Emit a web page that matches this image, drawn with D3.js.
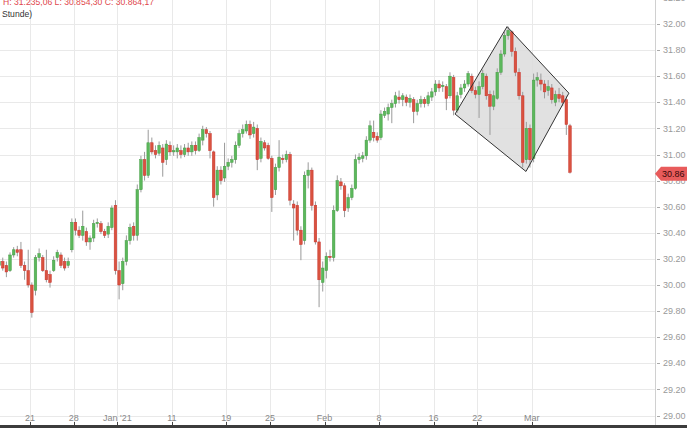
<!DOCTYPE html>
<html><head><meta charset="utf-8">
<script src="https://cdn.jsdelivr.net/npm/d3@7/dist/d3.min.js"></script>
<style>html,body{margin:0;padding:0;background:#fff;overflow:hidden}svg{display:block;font-family:"Liberation Sans",Arial,sans-serif}</style>
</head><body><svg id="c" width="687" height="428"></svg>
<script>
// Trading days shown (US market), 3 candles per day
const days = ["2020-12-16","2020-12-17","2020-12-18","2020-12-21","2020-12-22","2020-12-23","2020-12-24","2020-12-28","2020-12-29","2020-12-30","2020-12-31",
"2021-01-04","2021-01-05","2021-01-06","2021-01-07","2021-01-08","2021-01-11","2021-01-12","2021-01-13","2021-01-14","2021-01-15","2021-01-19","2021-01-20","2021-01-21","2021-01-22","2021-01-25","2021-01-26","2021-01-27","2021-01-28","2021-01-29",
"2021-02-01","2021-02-02","2021-02-03","2021-02-04","2021-02-05","2021-02-08","2021-02-09","2021-02-10","2021-02-11","2021-02-12","2021-02-16","2021-02-17","2021-02-18","2021-02-19","2021-02-22","2021-02-23","2021-02-24","2021-02-25","2021-02-26",
"2021-03-01","2021-03-02","2021-03-03","2021-03-04"];
const candlesPerDay = 3;

const opens = [30.15,30.18,30.15,30.11,30.23,30.27,30.27,30.15,30.11,30.00,
29.96,30.21,30.21,30.11,30.08,30.11,30.21,30.23,30.18,30.15,
30.27,30.48,30.42,30.38,30.41,30.33,30.36,30.47,30.47,30.41,
30.39,30.44,30.61,30.11,30.01,30.18,30.34,30.45,30.38,30.73,
30.96,30.84,31.09,31.03,31.01,31.05,30.96,31.07,31.02,31.02,
31.03,31.00,31.05,31.02,31.07,31.03,31.11,31.19,31.16,31.02,
30.69,30.88,30.82,30.91,30.94,30.96,31.07,31.16,31.18,31.23,
31.16,31.20,30.97,31.09,31.07,30.97,30.73,30.90,30.97,30.96,
31.00,30.62,30.61,30.42,30.34,30.84,30.88,30.61,30.33,30.02,
30.11,30.22,30.21,30.57,30.79,30.76,30.59,30.67,30.74,30.96,
30.97,30.99,31.11,31.17,31.14,31.13,31.30,31.31,31.36,31.39,
31.44,31.42,31.44,31.40,31.42,31.33,31.39,31.42,31.39,31.44,
31.48,31.54,31.52,31.52,31.45,31.59,31.34,31.46,31.51,31.54,
31.60,31.49,31.46,31.52,31.60,31.46,31.37,31.43,31.63,31.77,
31.91,31.94,31.79,31.63,31.45,30.96,31.20,30.97,31.57,31.57,
31.54,31.49,31.51,31.40,31.46,31.45,31.42,31.22];
const highs = [30.21,30.21,30.18,30.25,30.29,30.30,30.33,30.18,30.27,30.02,
30.23,30.28,30.23,30.27,30.11,30.22,30.27,30.25,30.21,30.21,
30.51,30.51,30.45,30.57,30.44,30.38,30.50,30.51,30.49,30.43,
30.48,30.61,30.65,30.18,30.21,30.38,30.47,30.48,30.77,30.99,
31.02,31.19,31.13,31.07,31.10,31.08,31.11,31.10,31.07,31.08,
31.07,31.08,31.09,31.10,31.10,31.16,31.22,31.21,31.18,31.03,
30.91,30.91,31.09,30.97,30.99,31.10,31.19,31.23,31.26,31.26,
31.25,31.23,31.13,31.11,31.09,30.99,30.93,31.11,31.00,31.03,
31.02,30.65,30.64,30.45,30.87,30.94,30.90,30.64,30.36,30.18,
30.25,30.27,30.61,30.84,30.82,30.78,30.70,30.77,31.00,31.01,
31.02,31.14,31.26,31.26,31.17,31.34,31.36,31.39,31.42,31.48,
31.49,31.47,31.46,31.46,31.44,31.42,31.45,31.44,31.48,31.51,
31.57,31.57,31.56,31.54,31.63,31.61,31.48,31.54,31.57,31.64,
31.62,31.52,31.56,31.65,31.62,31.49,31.49,31.66,31.80,31.94,
31.98,31.95,31.82,31.66,31.48,31.25,31.23,31.62,31.63,31.62,
31.57,31.57,31.54,31.49,31.51,31.48,31.45,31.235];
const lows = [30.11,30.11,30.06,30.10,30.21,30.22,30.13,30.04,29.98,29.75,
29.92,30.18,30.10,30.02,29.98,30.10,30.18,30.13,30.11,30.13,
30.25,30.38,30.36,30.34,30.30,30.27,30.33,30.44,30.39,30.36,
30.36,30.42,30.08,29.89,29.96,30.15,30.31,30.34,30.34,30.71,
30.80,30.82,31.00,30.97,30.99,30.83,30.92,30.99,30.99,30.97,
30.97,30.98,30.99,30.99,31.00,31.02,31.07,31.13,30.97,30.60,
30.65,30.77,30.79,30.88,30.90,30.93,31.05,31.13,31.16,31.12,
31.13,30.88,30.94,31.03,30.96,30.56,30.69,30.87,30.93,30.94,
30.61,30.34,30.38,30.19,30.31,30.74,30.57,30.31,29.83,29.95,
30.05,30.18,30.18,30.56,30.73,30.52,30.56,30.65,30.73,30.93,
30.94,30.96,31.09,31.10,31.09,31.11,31.28,31.26,31.24,31.36,
31.39,31.37,31.37,31.36,31.24,31.30,31.36,31.36,31.37,31.41,
31.45,31.48,31.48,31.34,31.43,31.30,31.32,31.43,31.48,31.52,
31.47,31.43,31.28,31.50,31.42,31.15,31.34,31.42,31.61,31.75,
31.88,31.75,31.60,31.42,30.90,30.93,30.90,30.94,31.52,31.49,
31.43,31.45,31.39,31.37,31.40,31.37,31.15,30.854];
const closes = [30.18,30.13,30.10,30.23,30.27,30.25,30.15,30.11,30.00,29.79,
30.21,30.24,30.11,30.04,30.02,30.19,30.25,30.15,30.13,30.18,
30.48,30.42,30.38,30.45,30.33,30.36,30.47,30.48,30.41,30.38,
30.45,30.59,30.11,30.00,30.18,30.34,30.44,30.38,30.73,30.96,
30.84,31.09,31.02,31.00,31.07,30.94,31.08,31.02,31.03,31.05,
31.00,31.05,31.02,31.07,31.03,31.13,31.19,31.16,31.03,30.67,
30.88,30.80,30.91,30.94,30.96,31.07,31.16,31.19,31.23,31.15,
31.21,30.96,31.10,31.05,30.97,30.67,30.90,30.98,30.96,31.00,
30.65,30.59,30.42,30.31,30.84,30.88,30.61,30.33,30.04,30.13,
30.22,30.21,30.57,30.80,30.76,30.57,30.67,30.74,30.96,30.98,
30.99,31.11,31.22,31.13,31.11,31.31,31.33,31.36,31.39,31.45,
31.42,31.45,31.40,31.43,31.33,31.39,31.42,31.39,31.45,31.48,
31.54,31.51,31.53,31.43,31.60,31.34,31.45,31.51,31.54,31.62,
31.49,31.46,31.52,31.62,31.45,31.37,31.45,31.63,31.77,31.91,
31.95,31.79,31.63,31.45,30.94,31.20,30.96,31.57,31.59,31.54,
31.48,31.52,31.42,31.46,31.43,31.40,31.23,30.864];

const tickDays = ["2020-12-21","2020-12-28","2021-01-04","2021-01-11","2021-01-19","2021-01-25","2021-02-01","2021-02-08","2021-02-16","2021-02-22","2021-03-01"];
const tickLabels = ["21","28","Jan '21","11","19","25","Feb","8","16","22","Mar"];
const yTicks = [29.0,29.2,29.4,29.6,29.8,30.0,30.2,30.4,30.6,30.8,31.0,31.2,31.4,31.6,31.8,32.0,32.2];
const headerLine1 = "H: 31.235,06 L: 30.854,30 C: 30.864,17";
const headerLine2 = "Stunde)";
// Diamond pattern annotation: [candle position, price]
const diamond = [[125.4,31.31],[139.7,31.98],[156.7,31.47],[144.9,30.87]];

const candles = opens.map((o,i)=>({i, o, h:highs[i], l:lows[i], c:closes[i]}));

const W = 687, H = 428, plotRight = 655.5;
const svg = d3.select("#c");
const nSlots = days.length*candlesPerDay;
const x = d3.scaleLinear().domain([0, nSlots]).range([-2.7, -2.7 + nSlots*3.636]);
const y = d3.scaleLinear().domain([29, 32]).range([415.5, 24]);

// grid
const grid = svg.append("g");
grid.selectAll("line.h").data(yTicks).join("line")
  .attr("x1",0).attr("x2",plotRight).attr("y1",d=>Math.round(y(d))+0.5).attr("y2",d=>Math.round(y(d))+0.5)
  .attr("stroke","#e9e9e9").attr("stroke-width",1);
const tickPos = tickDays.map(d=>x(days.indexOf(d)*candlesPerDay));
grid.selectAll("line.v").data(tickPos).join("line")
  .attr("x1",d=>Math.round(d)+0.5).attr("x2",d=>Math.round(d)+0.5).attr("y1",0).attr("y2",425)
  .attr("stroke","#e9e9e9").attr("stroke-width",1);

svg.append("defs").append("clipPath").attr("id","clip").append("rect")
  .attr("x",0).attr("y",0).attr("width",plotRight).attr("height",425);
const plot = svg.append("g").attr("clip-path","url(#clip)");

const cx = i => x(i+0.5);
const line = d3.line().x(d=>cx(d[0])).y(d=>y(d[1])).curve(d3.curveLinearClosed);

// diamond fill
plot.append("path").attr("d", line(diamond)).attr("fill","#dcdcdc").attr("fill-opacity",0.85).attr("stroke","none");

const bw = 2.6;
const cg = plot.append("g");
cg.selectAll("line").data(candles).join("line")
  .attr("x1",d=>cx(d.i)).attr("x2",d=>cx(d.i))
  .attr("y1",d=>y(d.h)).attr("y2",d=>y(d.l))
  .attr("stroke","#9a9a9a").attr("stroke-width",1);
cg.selectAll("rect").data(candles).join("rect")
  .attr("x",d=>cx(d.i)-bw/2).attr("width",bw)
  .attr("y",d=>y(Math.max(d.o,d.c)))
  .attr("height",d=>Math.max(1, Math.abs(y(d.o)-y(d.c))))
  .attr("fill",d=>d.c>=d.o ? "#5cb85c" : "#d9533f")
  .attr("stroke",d=>d.c>=d.o ? "#449d44" : "#c9302c").attr("stroke-width",0.5);

// diamond outline
plot.append("path").attr("d", line(diamond)).attr("fill","none").attr("stroke","#333").attr("stroke-width",1);

// right axis
svg.append("line").attr("x1",plotRight).attr("x2",plotRight).attr("y1",0).attr("y2",425).attr("stroke","#d0d0d0");
const ya = svg.append("g");
ya.selectAll("line").data(yTicks).join("line")
  .attr("x1",657).attr("x2",660).attr("y1",d=>Math.round(y(d))+0.5).attr("y2",d=>Math.round(y(d))+0.5)
  .attr("stroke","#aaa");
ya.selectAll("text").data(yTicks).join("text")
  .attr("x",663).attr("y",d=>y(d)).attr("dy","0.35em")
  .attr("font-size",9).attr("fill","#999").text(d=>d3.format(".2f")(d));

// last price marker
const last = closes[closes.length-1];
const ly = y(last)+1.5;
svg.append("path").attr("d",`M655,${ly} L661,${ly-7} L687,${ly-7} L687,${ly+7} L661,${ly+7} Z`).attr("fill","#e85b5b");
svg.append("text").attr("x",662).attr("y",ly).attr("dy","0.35em").attr("font-size",9).attr("fill","#3a0808").text(d3.format(".2f")(last));

// bottom axis
svg.append("rect").attr("x",0).attr("y",425).attr("width",W).attr("height",3).attr("fill","#3c3c3c");
const xa = svg.append("g");
xa.selectAll("line").data(tickPos).join("line")
  .attr("x1",d=>Math.round(d)+0.5).attr("x2",d=>Math.round(d)+0.5).attr("y1",422).attr("y2",425).attr("stroke","#444");
xa.selectAll("text").data(tickLabels).join("text")
  .attr("x",(d,i)=>tickPos[i]).attr("y",420.5).attr("text-anchor","middle")
  .attr("font-size",9).attr("fill","#888").text(d=>d);

// header
svg.append("text").attr("x",3).attr("y",5).attr("font-size",8.6).attr("fill","#e0474c").text(headerLine1);
svg.append("text").attr("x",2).attr("y",17).attr("font-size",8.6).attr("fill","#333").text(headerLine2);
</script></body></html>
